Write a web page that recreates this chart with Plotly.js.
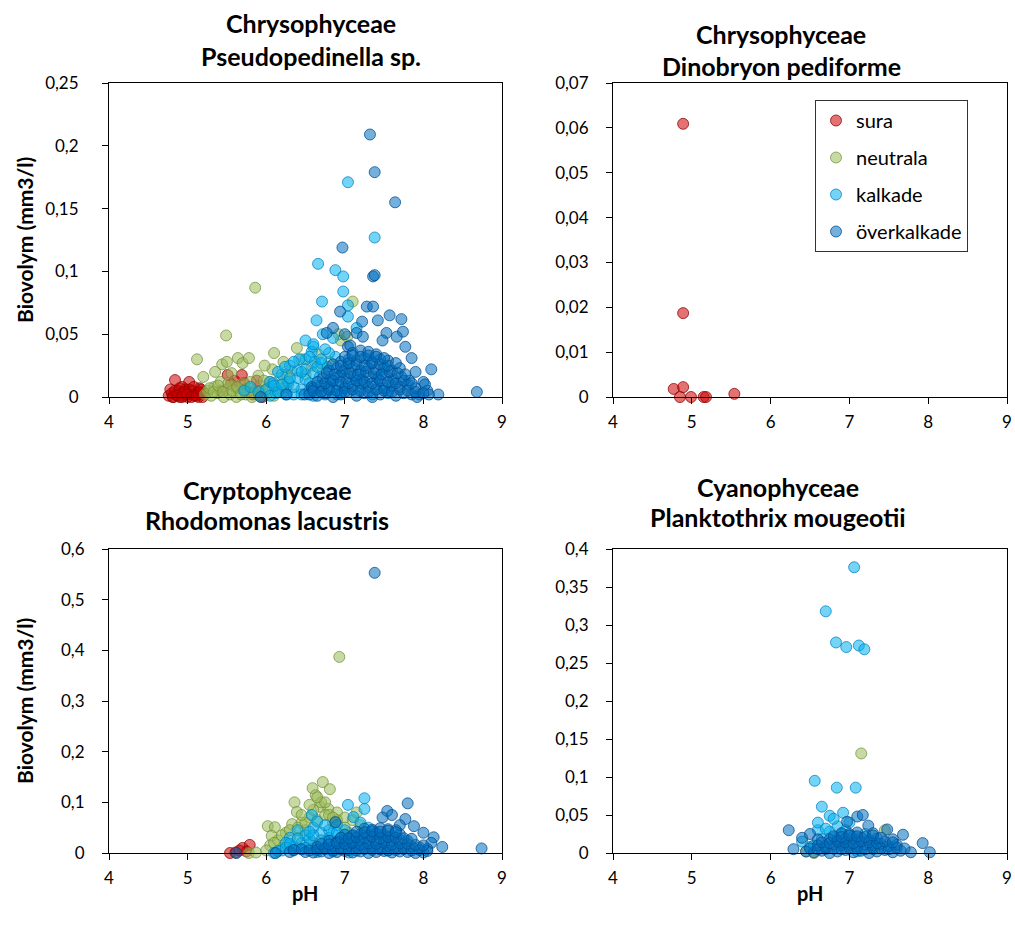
<!DOCTYPE html>
<html>
<head>
<meta charset="utf-8">
<script src="https://cdn.plot.ly/plotly-3.0.1.min.js"></script>
<style>html,body{margin:0;padding:0;background:#fff;}#chart{width:1015px;height:931px;}</style>
</head>
<body>
<div id="chart"></div>
<script>
// ---------- Data ----------
const seriesNames = ["sura", "neutrala", "kalkade", "överkalkade"];
const panelTitles = [
  ["Chrysophyceae", "Pseudopedinella sp."],
  ["Chrysophyceae", "Dinobryon pediforme"],
  ["Cryptophyceae", "Rhodomonas lacustris"],
  ["Cyanophyceae", "Planktothrix mougeotii"]
];
const yTitle = "Biovolym (mm3/l)";
const xTitle = "pH";
const xTicks = [4, 5, 6, 7, 8, 9];
const yTicksA = [0, 0.05, 0.1, 0.15, 0.2, 0.25];
const yTicksB = [0, 0.01, 0.02, 0.03, 0.04, 0.05, 0.06, 0.07];
const yTicksC = [0, 0.1, 0.2, 0.3, 0.4, 0.5, 0.6];
const yTicksD = [0, 0.05, 0.1, 0.15, 0.2, 0.25, 0.3, 0.35, 0.4];

// Panel A: Pseudopedinella sp.
const aSuraX = [4.76,4.8,4.82,4.86,4.88,4.9,4.92,4.95,4.98,5.0,5.03,5.06,5.08,5.11,5.14,5.17,5.2,4.84,5.02,4.93,5.15,4.97,5.42,5.51,5.55,5.6,5.64,5.69,5.72,5.76,5.83,5.88,5.92,5.95,
  4.78,4.84,4.9,4.96,5.02,5.08,5.14,5.19,4.81,4.87,4.93,4.99,5.05,5.11,5.17];
const aSuraY = [0.001,0.003,0,0.002,0.005,0,0.003,0.001,0.004,0,0.002,0.005,0.001,0.003,0,0.002,0.004,0.0135,0.012,0.008,0.007,0.006,0.005,0.0175,0.01,0.013,0.007,0.0175,0.011,0.004,0.002,0.013,0.005,0,
  0.006,0.005,0.007,0.004,0.006,0.008,0.004,0,0,0.001,0,0.002,0,0.001,0.006];
const aNeuX = [5.12,5.49,5.86,5.44,5.5,5.64,5.7,5.78,6.1,5.2,5.26,5.3,5.34,5.38,5.42,5.46,5.5,5.54,5.58,5.62,5.66,5.7,5.74,5.78,5.82,5.86,5.9,5.95,6.0,6.04,6.08,6.12,6.18,6.22,6.28,6.32,6.39,6.45,6.5,6.58,6.66,6.72,6.8,6.95,7.05,5.56,5.98,5.35,7.1,6.92,7.03,
  5.22,5.28,5.33,5.39,5.45,5.52,5.57,5.63,5.68,5.73,5.8,5.85,5.91,5.97,6.03,6.1,6.16,6.21,6.26];
const aNeuY = [0.03,0.049,0.087,0.026,0.028,0.031,0.027,0.031,0.035,0.016,0.005,0.001,0.008,0.003,0.012,0,0.006,0.002,0.009,0,0.004,0.011,0.002,0.007,0,0.005,0.017,0.008,0.002,0.012,0.022,0.006,0.015,0.028,0.01,0.021,0.039,0.03,0.018,0.025,0.034,0.02,0.028,0.045,0.02,0.019,0.025,0.02,0.076,0.05,0.048,
  0.002,0.007,0.004,0.009,0.004,0.011,0.005,0.008,0.002,0.006,0.012,0.003,0.001,0.013,0.007,0.001,0.009,0.004,0.018];
const aKalX = [7.04,7.38,6.66,6.88,6.98,6.98,6.71,7.04,6.64,7.04,6.72,6.85,6.6,6.5,7.15,5.72,5.8,5.9,6.0,6.05,6.12,6.2,6.25,6.3,6.35,6.4,6.45,6.5,6.55,6.6,6.62,6.68,6.72,6.78,6.82,6.88,6.9,6.95,7.0,7.05,7.1,7.15,7.2,7.25,7.3,7.35,7.4,7.45,7.5,7.55,7.6,6.15,6.28,6.42,6.58,6.09,6.24,
  6.05,6.15,6.25,6.35,6.45,6.55,6.65,6.75,6.85,6.95,6.1,6.2,6.3,6.4,6.5,6.6,6.7,6.8,6.35,6.45,6.55,6.65,6.75,6.5,6.6,6.7];
const aKalY = [0.171,0.127,0.106,0.101,0.096,0.084,0.076,0.073,0.061,0.064,0.05,0.047,0.04,0.03,0.055,0.005,0.008,0.004,0.006,0.012,0.003,0.018,0.008,0.025,0.002,0.015,0.006,0.022,0.011,0.001,0.028,0.016,0.005,0.024,0.012,0.032,0.002,0.018,0.008,0.027,0.014,0.004,0.02,0.01,0.03,0.002,0.016,0.007,0.022,0.003,0.012,0.02,0.012,0.03,0.036,0.011,0.024,
  0.001,0.004,0.002,0.008,0.002,0.005,0.009,0.002,0.006,0.003,0.009,0.01,0.015,0.021,0.014,0.019,0.027,0.035,0.028,0.02,0.032,0.024,0.038,0.045,0.042,0.03];
const aOverX = [7.32,7.38,7.64,6.97,7.36,7.38,6.94,7.28,7.36,7.57,7.72,7.74,7.77,7.85,8.1,8.19,8.68,7.42,7.22,7.15,7.04,7.53,7.66,7.0,6.85,7.48,7.9,8.0,8.05,7.95,6.77,7.07,7.23,8.02,8.07,6.26,6.49,6.58,5.93,
  6.55,6.65,6.75,6.85,6.95,7.05,7.15,7.25,7.35,7.45,7.55,7.65,7.75,7.85,7.92,
  6.6,6.7,6.8,6.9,7.0,7.1,7.2,7.3,7.4,7.5,7.6,7.7,7.8,7.9,
  6.72,6.82,6.92,7.02,7.12,7.22,7.32,7.42,7.52,7.62,7.72,7.82,
  6.8,6.9,7.0,7.1,7.2,7.3,7.4,7.5,7.6,7.7,
  6.95,7.05,7.15,7.25,7.35,7.45,7.55,
  7.1,7.2,7.3,7.4,
  6.6,6.7,6.8,6.9,7.0,7.1,7.2,7.3,7.4,7.5,7.6,7.7,7.8,7.9,8.0,
  6.65,6.75,6.85,6.95,7.05,7.15,7.25,7.35,7.45,7.55,7.65,7.75,7.85,
  6.77,6.87,6.97,7.07,7.17,7.27,7.37,7.47,7.57,7.67,7.77,
  6.85,6.95,7.05,7.15,7.25,7.35,7.45,7.55,7.65,
  7.0,7.1,7.2,7.3,7.4,7.5];
const aOverY = [0.209,0.179,0.155,0.119,0.096,0.097,0.068,0.072,0.072,0.065,0.062,0.052,0.04,0.031,0.022,0.002,0.004,0.061,0.06,0.051,0.04,0.051,0.048,0.05,0.055,0.045,0.02,0.012,0.005,0.002,0.051,0.041,0.048,0.01,0.002,0.002,0.002,0.008,0,
  0.002,0.001,0.003,0,0.002,0.004,0.001,0.003,0,0.002,0.004,0.001,0.003,0.002,0,
  0.007,0.009,0.008,0.01,0.007,0.009,0.011,0.008,0.01,0.007,0.009,0.008,0.01,0.007,
  0.015,0.014,0.016,0.015,0.017,0.014,0.016,0.015,0.017,0.014,0.016,0.013,
  0.021,0.023,0.022,0.024,0.021,0.023,0.022,0.024,0.021,0.023,
  0.028,0.03,0.029,0.031,0.028,0.03,0.029,
  0.035,0.037,0.036,0.034,
  0.005,0.004,0.006,0.005,0.004,0.006,0.005,0.004,0.006,0.005,0.004,0.006,0.005,0.004,0.003,
  0.012,0.011,0.013,0.012,0.011,0.013,0.012,0.011,0.013,0.012,0.011,0.013,0.011,
  0.019,0.018,0.02,0.019,0.018,0.02,0.019,0.018,0.02,0.019,0.018,
  0.026,0.025,0.027,0.026,0.025,0.027,0.026,0.025,0.027,
  0.032,0.033,0.032,0.033,0.032,0.031];

// Panel B: Dinobryon pediforme
const bSuraX = [4.89,4.89,4.77,4.89,4.85,4.99,5.15,5.18,5.54];
const bSuraY = [0.0609,0.0187,0.0018,0.0022,0,0,0,0,0.0007];
const bNeuX = [], bNeuY = [], bKalX = [], bKalY = [], bOverX = [], bOverY = [];

// Panel C: Rhodomonas lacustris
const cSuraX = [5.54,5.61,5.7,5.79,5.75,5.66];
const cSuraY = [0,0.001,0.01,0.016,0.003,0.005];
const cNeuX = [6.93,6.72,6.59,6.81,6.63,6.36,6.39,6.02,6.11,6.07,6.33,6.69,6.79,5.78,5.87,6.05,6.15,6.25,6.45,6.5,6.55,6.65,6.75,6.85,6.9,7.0,7.1,7.15,7.2,6.2,6.4,6.6,6.3,7.05,
  6.0,6.1,6.2,6.3,6.4,6.5,6.6,6.7,6.8,6.9,7.0,6.45,6.55,6.65,6.75,6.85];
const cNeuY = [0.387,0.14,0.128,0.126,0.114,0.1,0.081,0.053,0.051,0.034,0.057,0.091,0.087,0,0.001,0.015,0.025,0.04,0.06,0.045,0.07,0.065,0.075,0.06,0.08,0.07,0.065,0.08,0.055,0.01,0.03,0.02,0.015,0.04,
  0.005,0.02,0.035,0.045,0.05,0.06,0.085,0.1,0.075,0.065,0.05,0.075,0.095,0.11,0.1,0.07];
const cKalX = [7.25,7.25,6.58,7.04,7.11,6.45,6.2,6.1,6.3,6.4,6.5,6.6,6.7,6.8,6.9,7.0,7.1,7.2,7.3,7.4,7.5,6.35,6.55,6.75,6.95,7.15,7.35,7.55,6.65,6.85,7.05,6.25,
  6.15,6.25,6.35,6.45,6.55,6.65,6.75,6.85,6.95,6.3,6.4,6.5,6.6,6.7,6.8,6.9,6.55,6.65,6.75];
const cKalY = [0.108,0.087,0.075,0.095,0.071,0.02,0.005,0,0.03,0.045,0.035,0.05,0.04,0.03,0.055,0.045,0.035,0.06,0.05,0.04,0.025,0.012,0.018,0.01,0.02,0.015,0.01,0.005,0.002,0.003,0.001,0.02,
  0.004,0.01,0.005,0.008,0.028,0.012,0.022,0.038,0.03,0.018,0.028,0.01,0.035,0.025,0.045,0.04,0.042,0.062,0.055];
const cOverX = [7.38,7.8,7.54,6.88,7.88,8.13,8.24,8.74,7.77,7.6,7.48,7.7,8.0,8.1,8.05,6.3,6.12,5.62,
  6.5,6.6,6.7,6.8,6.9,7.0,7.1,7.2,7.3,7.4,7.5,7.6,7.7,7.8,7.9,8.0,
  6.65,6.75,6.85,6.95,7.05,7.15,7.25,7.35,7.45,7.55,7.65,7.75,7.85,7.95,
  6.8,6.9,7.0,7.1,7.2,7.3,7.4,7.5,7.6,7.7,7.8,
  7.0,7.1,7.2,7.3,7.4,7.5,7.6,7.7,
  7.25,7.35,7.45,7.55,7.65,
  6.35,6.45,6.55,6.65,6.75,6.85,6.95,7.05,7.15,7.25,7.35,7.45,7.55,7.65,7.75,7.85,7.95,8.05,
  6.7,6.8,6.9,7.0,7.1,7.2,7.3,7.4,7.5,7.6,7.7,7.8,7.9,8.0,
  6.95,7.05,7.15,7.25,7.35,7.45,7.55,7.65,7.75,7.85,
  7.15,7.25,7.35,7.45,7.55,7.65];
const cOverY = [0.553,0.098,0.083,0.061,0.053,0.031,0.012,0.009,0.067,0.075,0.07,0.055,0.04,0.02,0.008,0.002,0,0,
  0.002,0.001,0.003,0,0.002,0.004,0.001,0.003,0,0.002,0.004,0.001,0.003,0.002,0,0.001,
  0.012,0.01,0.013,0.011,0.014,0.012,0.01,0.013,0.011,0.014,0.012,0.01,0.013,0.011,
  0.024,0.022,0.025,0.023,0.026,0.024,0.022,0.025,0.023,0.026,0.024,
  0.036,0.034,0.037,0.035,0.038,0.036,0.034,0.037,
  0.048,0.046,0.049,0.047,0.045,
  0.006,0.007,0.005,0.006,0.008,0.005,0.007,0.006,0.005,0.008,0.006,0.007,0.005,0.006,0.008,0.005,0.006,0.004,
  0.018,0.017,0.019,0.018,0.02,0.017,0.019,0.018,0.02,0.017,0.019,0.018,0.016,0.015,
  0.03,0.029,0.031,0.03,0.032,0.029,0.031,0.03,0.029,0.028,
  0.042,0.041,0.043,0.042,0.044,0.041];

// Panel D: Planktothrix mougeotii
const dSuraX = [], dSuraY = [];
const dNeuX = [7.15,7.45,6.45,6.55,7.0,7.3];
const dNeuY = [0.131,0.03,0.002,0,0.01,0.005];
const dKalX = [7.06,6.70,6.83,6.96,7.12,7.19,6.56,6.84,7.08,6.65,6.75,6.92,7.0,6.6,6.4,6.5,6.8,7.2,6.9,7.3,6.7,7.1,
  6.55,6.65,6.75,6.85,6.95,7.05,6.6,6.7,6.8,6.9];
const dKalY = [0.376,0.318,0.277,0.271,0.273,0.268,0.095,0.086,0.086,0.061,0.049,0.053,0.04,0.03,0.015,0.008,0.02,0.025,0.012,0.01,0.005,0.002,
  0.01,0.018,0.028,0.035,0.03,0.022,0.04,0.032,0.045,0.025];
const dOverX = [6.23,6.29,7.1,7.17,7.24,7.48,7.68,7.93,8.02,7.78,6.97,6.4,6.5,6.6,
  6.45,6.55,6.65,6.75,6.85,6.95,7.05,7.15,7.25,7.35,7.45,7.55,7.65,
  6.6,6.7,6.8,6.9,7.0,7.1,7.2,7.3,7.4,7.5,7.6,
  6.75,6.85,6.95,7.05,7.15,7.25,7.35,7.55,
  6.9,7.0,7.1,7.3,
  6.5,6.6,6.7,6.8,6.9,7.0,7.1,7.2,7.3,7.4,7.5,7.6,7.7,
  6.65,6.75,6.85,6.95,7.05,7.15,7.25,7.35,7.45,7.55,
  6.8,6.9,7.0,7.1,7.2,7.3,7.4];
const dOverY = [0.03,0.005,0.048,0.05,0.036,0.031,0.024,0.013,0.001,0.001,0.041,0.02,0.025,0.018,
  0.002,0.001,0.003,0,0.002,0.004,0.001,0.003,0,0.002,0.004,0.001,0.003,
  0.01,0.009,0.011,0.01,0.012,0.009,0.011,0.01,0.012,0.009,0.011,
  0.018,0.017,0.019,0.018,0.02,0.017,0.019,0.018,
  0.026,0.025,0.027,0.026,
  0.006,0.005,0.007,0.006,0.005,0.007,0.006,0.005,0.007,0.006,0.005,0.007,0.006,
  0.014,0.013,0.015,0.014,0.013,0.015,0.014,0.013,0.015,0.014,
  0.022,0.021,0.023,0.022,0.021,0.023,0.02];

// ---------- Styles ----------
const fills = ["rgba(204,0,0,0.55)", "rgba(155,187,89,0.55)", "rgba(0,176,240,0.55)", "rgba(0,112,192,0.55)"];
const borders = ["rgba(140,0,0,0.75)", "rgba(110,140,50,0.7)", "rgba(0,130,190,0.75)", "rgba(0,75,140,0.75)"];
const FONT = "Lato, 'Open Sans', sans-serif";

const panels = [
  {xs:[aSuraX,aNeuX,aKalX,aOverX], ys:[aSuraY,aNeuY,aKalY,aOverY], xa:"x", ya:"y"},
  {xs:[bSuraX,bNeuX,bKalX,bOverX], ys:[bSuraY,bNeuY,bKalY,bOverY], xa:"x2", ya:"y2"},
  {xs:[cSuraX,cNeuX,cKalX,cOverX], ys:[cSuraY,cNeuY,cKalY,cOverY], xa:"x3", ya:"y3"},
  {xs:[dSuraX,dNeuX,dKalX,dOverX], ys:[dSuraY,dNeuY,dKalY,dOverY], xa:"x4", ya:"y4"}
];

const traces = [];
panels.forEach((p, pi) => {
  for (let s = 0; s < 4; s++) {
    traces.push({
      type: "scatter", mode: "markers",
      x: p.xs[s], y: p.ys[s], xaxis: p.xa, yaxis: p.ya,
      name: seriesNames[s], legendgroup: seriesNames[s],
      showlegend: pi === 0,
      cliponaxis: false,
      marker: {size: 11, color: fills[s], line: {color: borders[s], width: 1}},
      hoverinfo: "x+y"
    });
  }
});

function xax(domain, anchor) {
  return {domain: domain, anchor: anchor, range: [4, 9], tickvals: xTicks, ticktext: xTicks.map(String),
    showgrid: false, zeroline: false, showline: true, mirror: true, linecolor: "#000", linewidth: 1,
    ticks: "outside", ticklen: 6, tickcolor: "#000", tickfont: {family: FONT, size: 17, color: "#000"},
    ticklabelstandoff: 4, fixedrange: true};
}
function yax(domain, anchor, range, vals, standoff) {
  return {domain: domain, anchor: anchor, range: range, tickvals: vals,
    ticktext: vals.map(v => String(v).replace(".", ",")),
    showgrid: false, zeroline: false, showline: true, mirror: true, linecolor: "#000", linewidth: 1,
    ticks: "outside", ticklen: 6, tickcolor: "#000", tickfont: {family: FONT, size: 17, color: "#000"},
    ticklabelstandoff: standoff, fixedrange: true};
}
const W = 1015, H = 931;
const dxL = [109 / W, 502 / W], dxR = [613 / W, 1007 / W];
const dyT = [1 - 397 / H, 1 - 83 / H], dyB = [1 - 853 / H, 1 - 549 / H];

const annotations = [];
const titlePos = [[311, 23, 56], [781, 34, 66], [267, 490, 520], [778, 487, 517]];
panelTitles.forEach((t, i) => {
  const [cx, y1, y2] = titlePos[i];
  [t[0], t[1]].forEach((txt, j) => {
    annotations.push({text: "<b>" + txt + "</b>", x: cx / W, y: 1 - (j ? y2 : y1) / H,
      xref: "paper", yref: "paper", showarrow: false, xanchor: "center", yanchor: "middle",
      font: {family: FONT, size: 25, color: "#000"}});
  });
});
[240, 701].forEach(cy => annotations.push({text: "<b>" + yTitle + "</b>", x: 24 / W, y: 1 - cy / H,
  xref: "paper", yref: "paper", showarrow: false, textangle: -90, xanchor: "center", yanchor: "middle",
  font: {family: FONT, size: 21, color: "#000"}}));
[305, 810].forEach(cx => annotations.push({text: "<b>" + xTitle + "</b>", x: cx / W, y: 1 - 893 / H,
  xref: "paper", yref: "paper", showarrow: false, xanchor: "center", yanchor: "middle",
  font: {family: FONT, size: 20, color: "#000"}}));

const layout = {
  width: W, height: H, margin: {l: 0, r: 0, t: 0, b: 0},
  paper_bgcolor: "#fff", plot_bgcolor: "#fff",
  separators: ", ",
  xaxis: xax(dxL, "y"), yaxis: yax(dyT, "x", [0, 0.25], yTicksA, 20),
  xaxis2: xax(dxR, "y2"), yaxis2: yax(dyT, "x2", [0, 0.07], yTicksB, 14),
  xaxis3: xax(dxL, "y3"), yaxis3: yax(dyB, "x3", [0, 0.6], yTicksC, 14),
  xaxis4: xax(dxR, "y4"), yaxis4: yax(dyB, "x4", [0, 0.4], yTicksD, 14),
  showlegend: true,
  legend: {x: 815 / W, y: 1 - 100 / H, xanchor: "left", yanchor: "top", bgcolor: "#fff",
    bordercolor: "#333", borderwidth: 1, font: {family: FONT, size: 20, color: "#000"},
    tracegroupgap: 8, itemwidth: 30, traceorder: "grouped"},
  annotations: annotations,
  hovermode: "closest"
};

Plotly.newPlot("chart", traces, layout, {displayModeBar: false, staticPlot: true});
</script>
</body>
</html>
